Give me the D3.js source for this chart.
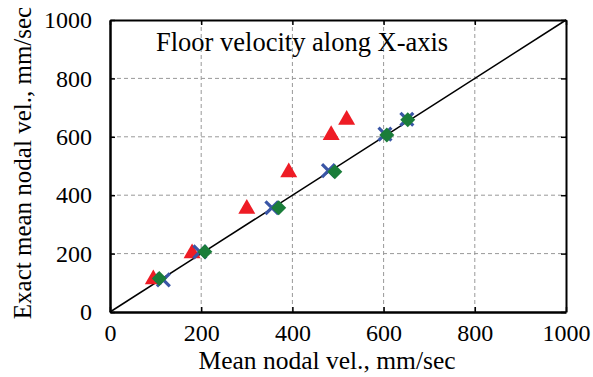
<!DOCTYPE html>
<html><head><meta charset="utf-8">
<script src="https://cdn.jsdelivr.net/npm/d3@7"></script>
<style>body{margin:0;background:#fff}svg{display:block}text{font-family:"Liberation Serif","Times New Roman",serif;fill:#000}</style>
</head><body>
<svg id="c" width="593" height="377" font-family="Liberation Serif"></svg>
<script>
const ticks = [0, 200, 400, 600, 800, 1000];
const triX = [95, 180, 300, 392, 485, 519];
const triY = [112, 201, 353, 478, 606, 658];
const crossX = [117, 197, 355, 479, 603, 651];
const crossY = [110, 206, 357, 484, 609, 660];
const diaX = [108, 208, 370, 493, 607, 653];
const diaY = [115, 206, 357, 480, 606, 658];
const diagLine = [0, 1000];

(function () {
const svg = d3.select("#c");
const L = 110, R = 566, T = 20, B = 312;
const x = d3.scaleLinear().domain([0, 1000]).range([L, R]);
const y = d3.scaleLinear().domain([0, 1000]).range([B, T]);
const fmt = d3.format("d");

// grid
const g = svg.append("g");
g.append("g").selectAll("line").data(ticks.slice(1, -1)).join("line")
  .attr("x1", d => x(d)).attr("x2", d => x(d)).attr("y1", T).attr("y2", B)
  .attr("stroke", "#999").attr("stroke-width", 1).attr("stroke-dasharray", "4,3");
g.append("g").selectAll("line").data(ticks.slice(1, -1)).join("line")
  .attr("y1", d => y(d)).attr("y2", d => y(d)).attr("x1", L).attr("x2", R)
  .attr("stroke", "#999").attr("stroke-width", 1).attr("stroke-dasharray", "4,3");

// axes
const axB = svg.append("g").attr("transform", `translate(0,${B})`)
  .call(d3.axisBottom(x).tickValues(ticks).tickFormat(fmt).tickSize(-5).tickPadding(12).tickSizeOuter(0));
const axL = svg.append("g").attr("transform", `translate(${L},0)`)
  .call(d3.axisLeft(y).tickValues(ticks).tickFormat(fmt).tickSize(-5).tickPadding(18).tickSizeOuter(0));
const axT = svg.append("g").attr("transform", `translate(0,${T})`)
  .call(d3.axisTop(x).tickValues(ticks).tickSize(-5).tickFormat("").tickSizeOuter(0));
const axR = svg.append("g").attr("transform", `translate(${R},0)`)
  .call(d3.axisRight(y).tickValues(ticks).tickSize(-5).tickFormat("").tickSizeOuter(0));
[axB, axL, axT, axR].forEach(a => {
  a.attr("font-family", "Liberation Serif").attr("font-size", 24);
  a.selectAll(".tick line").attr("stroke", "#000").attr("stroke-width", 1.5);
  a.select(".domain").attr("stroke", "#000").attr("stroke-width", 2);
  a.selectAll(".tick text").attr("class", "tl").attr("fill", "#000");
});
axL.select(".domain").attr("stroke-width", 2.5);
axB.select(".domain").attr("stroke-width", 2.5);

// diagonal
svg.append("line")
  .attr("x1", x(diagLine[0])).attr("y1", y(diagLine[0]))
  .attr("x2", x(diagLine[1])).attr("y2", y(diagLine[1]))
  .attr("stroke", "#000").attr("stroke-width", 1.5);

// markers
const tri = d3.symbol().type(d3.symbolTriangle).size(125);
svg.append("g").selectAll("path").data(triX.map((v, i) => [v, triY[i]])).join("path")
  .attr("d", tri).attr("transform", d => `translate(${x(d[0])},${y(d[1])})`)
  .attr("fill", "#ee1c25");
const cr = d3.symbol().type(d3.symbolX).size(110);
svg.append("g").selectAll("path").data(crossX.map((v, i) => [v, crossY[i]])).join("path")
  .attr("d", cr).attr("transform", d => `translate(${x(d[0])},${y(d[1])})`)
  .attr("fill", "none").attr("stroke", "#3a56a6").attr("stroke-width", 3.2);
svg.append("g").selectAll("path").data(diaX.map((v, i) => [v, diaY[i]])).join("path")
  .attr("d", "M0,-7.5L7.5,0L0,7.5L-7.5,0Z").attr("transform", d => `translate(${x(d[0])},${y(d[1])})`)
  .attr("fill", "#1a7d3a");

// texts
svg.append("text").attr("x", 156).attr("y", 51).attr("font-size", 26.5).text("Floor velocity along X-axis");
svg.append("text").attr("x", 327).attr("y", 369).attr("text-anchor", "middle")
  .attr("font-size", 25.5).text("Mean nodal vel., mm/sec");
svg.append("text").attr("transform", `translate(31,${(T + B) / 2 - 3}) rotate(-90)`).attr("text-anchor", "middle")
  .attr("font-size", 25).text("Exact mean nodal vel., mm/sec");
})();
</script>
</body></html>
